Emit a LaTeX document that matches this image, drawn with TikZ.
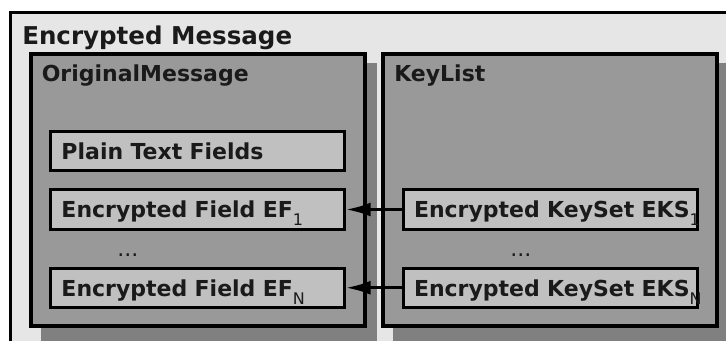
\documentclass[tikz,border=0pt]{standalone}
\usepackage{fontspec}
\setmainfont{DejaVu Sans}
\usetikzlibrary{arrows.meta}
\definecolor{outerfill}{HTML}{E6E6E6}
\definecolor{framefill}{HTML}{999999}
\definecolor{shadowfill}{HTML}{808080}
\definecolor{boxfill}{HTML}{C0C0C0}
\definecolor{ink}{HTML}{1A1A1A}
\newcommand{\lowsub}[1]{\raisebox{-6pt}{\fontsize{12pt}{12pt}\selectfont\mdseries #1}}
\begin{document}
\begin{tikzpicture}[x=0.75pt,y=-0.75pt,
  maintitle/.style={anchor=base west, inner sep=0pt, text=ink,
    font=\fontsize{18.4pt}{20pt}\selectfont\bfseries},
  frametitle/.style={anchor=base west, inner sep=0pt, text=ink,
    font=\fontsize{16.5pt}{18pt}\selectfont\bfseries},
  dotstext/.style={anchor=base west, inner sep=0pt, text=ink,
    font=\fontsize{16.5pt}{18pt}\selectfont},
  framebox/.style={draw=black, line width=3pt, fill=framefill,
    minimum width=250.3pt, minimum height=204.2pt, inner sep=0pt},
  field/.style={draw=black, line width=2.25pt, fill=boxfill,
    text width=204pt, inner xsep=8.25pt, inner ysep=0pt, align=left,
    minimum height=29.6pt, text height=12.45pt, text depth=0pt, text=ink,
    font=\fontsize{16.5pt}{18pt}\selectfont\bfseries},
  link/.style={draw=black, line width=2.25pt, -{Latex[length=18.5pt,width=10.5pt]}}
]
\useasboundingbox (0,0) rectangle (726,340);
\fill[white] (0,0) rectangle (726,340);
\clip (0,0) rectangle (726,340);

% outer container
\draw[line width=2.25pt, fill=outerfill] (10.5,12.5) rectangle (760,380);
\node[maintitle] (mtitle) at (22,44) {Encrypted Message};

% shadows
\fill[shadowfill] (41,63) rectangle (377,350);
\fill[shadowfill] (393,63) rectangle (740,350);

% frames
\node[framebox] (om) at (197.75,189.75) {};
\node[framebox] (kl) at (550,190.25) {};
\node[frametitle] (omtitle) at (41.5,81) {OriginalMessage};
\node[frametitle] (kltitle) at (394,81) {KeyList};

% fields
\node[field] (ptf) at (197.5,150.75) {\mbox{Plain Text Fields}};
\node[field] (ef1) at (197.5,209.5) {\mbox{Encrypted Field EF\lowsub{1}}};
\node[field] (efn) at (197.5,287.75) {\mbox{Encrypted Field EF\lowsub{N}}};
\node[field] (eks1) at (550,209.5) {\mbox{Encrypted KeySet EKS\lowsub{1}}};
\node[field] (eksn) at (550,287.75) {\mbox{Encrypted KeySet EKS\lowsub{N}}};

\node[dotstext] (dl) at (117,256) {...};
\node[dotstext] (dr) at (510,256) {...};

% links
\draw[link] (eks1.west) -- (ef1.east);
\draw[link] (eksn.west) -- (efn.east);
\end{tikzpicture}
\end{document}
